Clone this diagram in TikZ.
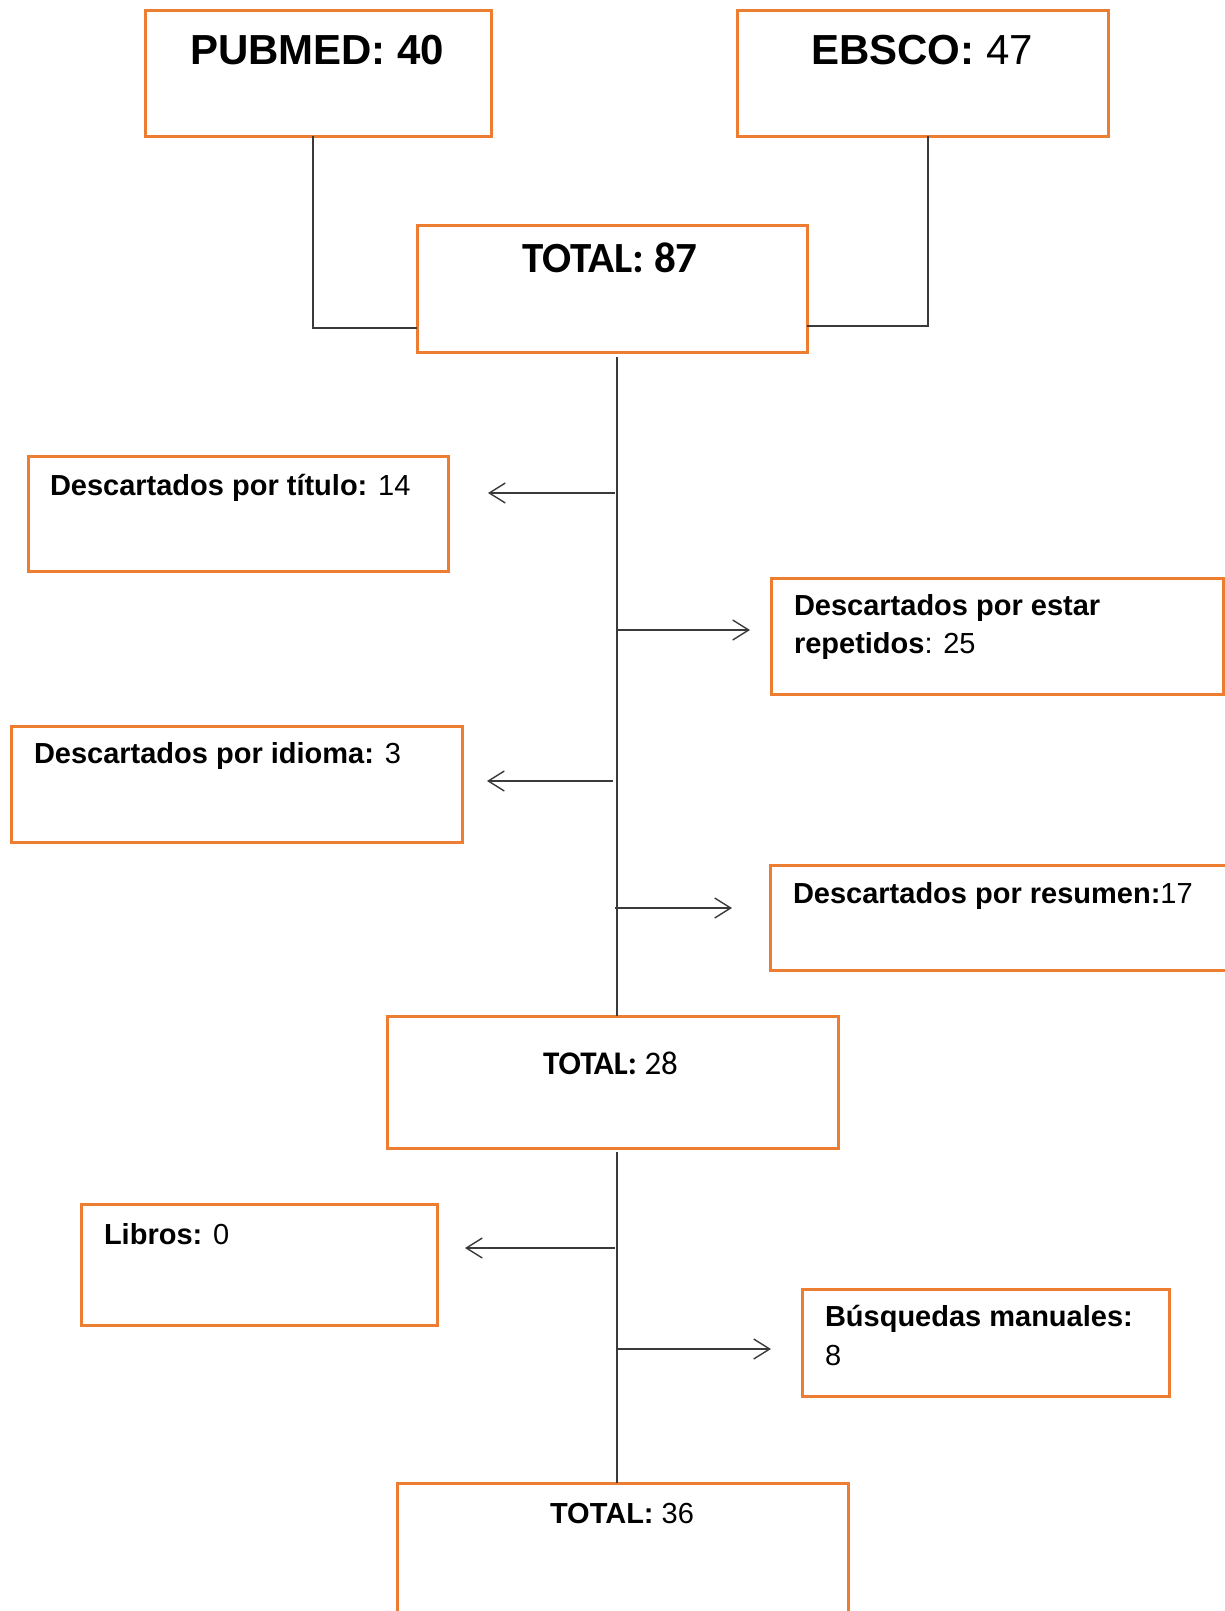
\documentclass[tikz,border=0pt]{standalone}
\usepackage{fontspec}
\setmainfont{Liberation Sans}
\newfontfamily\calfont{Carlito}
\usetikzlibrary{arrows.meta}
\definecolor{boxorange}{HTML}{ED7D31}
\definecolor{linegray}{HTML}{3A3A3A}
\tikzset{
  obox/.style={draw=boxorange, line width=3pt, rectangle, inner sep=0pt, outer sep=0pt, anchor=north west},
  lbl/.style={anchor=base west, inner sep=0pt, outer sep=0pt, font=\fontsize{29}{36}\selectfont},
  biglbl/.style={anchor=base west, inner sep=0pt, outer sep=0pt, font=\fontsize{42}{50}\selectfont},
  conn/.style={draw=linegray, line width=1.4pt},
  arr/.style={conn, -{Straight Barb[length=16pt,width=20pt,line width=1.4pt]}}
}
\begin{document}
\begin{tikzpicture}[x=1pt,y=-1pt]
\useasboundingbox (0,0) rectangle (1225,1611);
\clip (0,0) rectangle (1225,1611);
% boxes
\node[obox, minimum width=346pt, minimum height=125pt] (pubmed) at (145,11) {};
\node[obox, minimum width=371pt, minimum height=125pt] (ebsco) at (737,11) {};
\node[obox, minimum width=390pt, minimum height=127pt] (tot1) at (417,225) {};
\node[obox, minimum width=420pt, minimum height=115pt] (titulo) at (28,456) {};
\node[obox, minimum width=452pt, minimum height=116pt] (repet) at (771,578) {};
\node[obox, minimum width=451pt, minimum height=116pt] (idioma) at (11,726) {};
\node[obox, minimum width=470pt, minimum height=105pt] (resumen) at (770,865) {};
\node[obox, minimum width=451pt, minimum height=132pt] (tot2) at (387,1016) {};
\node[obox, minimum width=356pt, minimum height=121pt] (libros) at (81,1204) {};
\node[obox, minimum width=367pt, minimum height=107pt] (busq) at (802,1289) {};
\node[obox, minimum width=451pt, minimum height=160pt] (tot3) at (397,1483) {};
% texts
\node[biglbl] (tpub) at (190,64) {\bfseries PUBMED: 40};
\node[biglbl] (tebs) at (811,64) {\bfseries EBSCO:\mdseries{} 47};
\node[anchor=base west, inner sep=0pt, font=\calfont\fontsize{43}{50}\selectfont] (ttot1) at (522,272) {\bfseries TOTAL: 87};
\node[lbl] (ttit) at (50,495) {\bfseries Descartados por título:\mdseries{} 14};
\node[lbl] (trep1) at (794,615) {\bfseries Descartados por estar};
\node[lbl] (trep2) at (794,653) {\bfseries repetidos\mdseries{}: 25};
\node[lbl] (tidi) at (34,763) {\bfseries Descartados por idioma:\mdseries{} 3};
\node[lbl] (tres) at (793,903) {\bfseries Descartados por resumen:\mdseries{}17};
\node[anchor=base west, inner sep=0pt, font=\calfont\fontsize{33}{40}\selectfont] (ttot2) at (543,1074) {\bfseries TOTAL:\mdseries{} 28};
\node[lbl] (tlib) at (104,1244) {\bfseries Libros:\mdseries{} 0};
\node[lbl] (tbus1) at (825,1326) {\bfseries Búsquedas manuales:};
\node[lbl] (tbus2) at (825,1365) {8};
\node[lbl] (ttot3) at (550,1523) {\bfseries TOTAL:\mdseries{} 36};
% connectors
\coordinate (pl) at (313,328);
\coordinate (el) at (928,326);
\draw[conn] (pubmed.south -| pl) -- (pl) -- (tot1.west |- pl);
\draw[conn] (ebsco.south -| el) -- (el) -- (tot1.east |- el);
\coordinate (v1a) at (617,357);
\draw[conn] (v1a) -- (tot2.north -| v1a);
\coordinate (v2a) at (617,1152);
\draw[conn] (v2a) -- (tot3.north -| v2a);
% arrows
\coordinate (a1s) at (615,493); \coordinate (a1e) at (488,493);
\coordinate (a2s) at (617,630); \coordinate (a2e) at (750,630);
\coordinate (a3s) at (613,781); \coordinate (a3e) at (487,781);
\coordinate (a4s) at (615,908); \coordinate (a4e) at (732,908);
\coordinate (a5s) at (615,1248); \coordinate (a5e) at (465,1248);
\coordinate (a6s) at (617,1349); \coordinate (a6e) at (771,1349);
\draw[arr] (a1s) -- (a1e);
\draw[arr] (a2s) -- (a2e);
\draw[arr] (a3s) -- (a3e);
\draw[arr] (a4s) -- (a4e);
\draw[arr] (a5s) -- (a5e);
\draw[arr] (a6s) -- (a6e);
\end{tikzpicture}
\end{document}
